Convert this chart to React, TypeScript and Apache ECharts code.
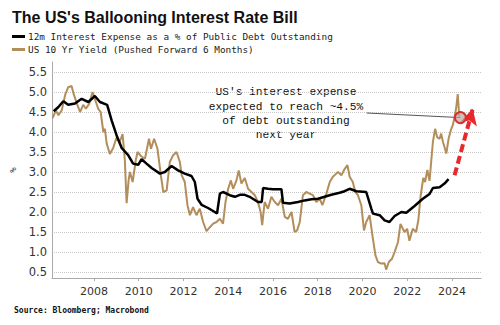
import React, { useEffect, useRef } from "react";
import * as echarts from "echarts";

const TITLE = "The US's Ballooning Interest Rate Bill";
const SERIES_EXPENSE = "12m Interest Expense as a % of Public Debt Outstanding";
const SERIES_YIELD = "US 10 Yr Yield (Pushed Forward 6 Months)";
const SOURCE = "Source: Bloomberg; Macrobond";
const ANNOTATION = "US's interest expense\nexpected to reach ~4.5%\nof debt outstanding\nnext year";

const xTicks = [2008, 2010, 2012, 2014, 2016, 2018, 2020, 2022, 2024];
const yTicks = [0.5, 1.0, 1.5, 2.0, 2.5, 3.0, 3.5, 4.0, 4.5, 5.0, 5.5];

// [year, %]
const interestExpense: [number, number][] = [
  [2006.2, 4.52], [2006.4, 4.62], [2006.63, 4.77], [2006.85, 4.68], [2007.15, 4.71], [2007.45, 4.83],
  [2007.75, 4.75], [2008.04, 4.9], [2008.27, 4.75], [2008.59, 4.68], [2008.79, 4.29], [2009.01, 3.92],
  [2009.24, 3.6], [2009.53, 3.42], [2009.75, 3.21], [2009.98, 3.18], [2010.13, 3.32], [2010.35, 3.21],
  [2010.58, 3.1], [2010.95, 2.96], [2011.17, 3.0], [2011.47, 3.15], [2011.76, 3.04], [2012.06, 2.96],
  [2012.36, 2.9], [2012.51, 2.75], [2012.63, 2.33], [2012.81, 2.18], [2013.1, 2.1], [2013.4, 2.0],
  [2013.5, 1.96], [2013.63, 2.46], [2013.77, 2.5], [2014.07, 2.42], [2014.3, 2.38], [2014.52, 2.43],
  [2014.74, 2.43], [2014.96, 2.38], [2015.33, 2.25], [2015.5, 2.25], [2015.56, 2.6], [2015.78, 2.58],
  [2016.0, 2.57], [2016.38, 2.57], [2016.45, 2.23], [2016.75, 2.21], [2017.12, 2.25], [2017.42, 2.29],
  [2017.72, 2.32], [2018.01, 2.33], [2018.31, 2.38], [2018.61, 2.43], [2018.98, 2.48], [2019.2, 2.52],
  [2019.43, 2.58], [2019.73, 2.52], [2020.17, 2.5], [2020.4, 2.08], [2020.47, 1.96], [2020.77, 1.92],
  [2020.99, 1.79], [2021.21, 1.75], [2021.44, 1.9], [2021.74, 2.0], [2021.96, 1.98], [2022.33, 2.15],
  [2022.7, 2.33], [2023.0, 2.45], [2023.15, 2.6], [2023.45, 2.62], [2023.67, 2.71], [2023.85, 2.82],
];

const yieldShifted: [number, number][] = [
  [2006.15, 4.35], [2006.3, 4.54], [2006.41, 4.42], [2006.56, 4.54], [2006.71, 4.92], [2006.85, 5.12],
  [2007.0, 5.15], [2007.11, 4.92], [2007.26, 4.68], [2007.38, 4.5], [2007.52, 4.68], [2007.64, 4.58],
  [2007.79, 4.71], [2007.94, 5.0], [2008.04, 4.83], [2008.19, 4.58], [2008.3, 4.5], [2008.42, 4.0],
  [2008.49, 4.08], [2008.57, 3.71], [2008.71, 3.45], [2008.86, 3.6], [2009.0, 3.85], [2009.15, 3.75],
  [2009.28, 3.95], [2009.38, 3.3], [2009.46, 2.22], [2009.55, 2.8], [2009.61, 3.0], [2009.73, 2.75],
  [2009.87, 3.3], [2009.95, 3.5], [2010.1, 3.4], [2010.28, 3.33], [2010.46, 3.83], [2010.55, 3.58],
  [2010.69, 3.83], [2010.84, 3.58], [2010.99, 2.92], [2011.1, 2.5], [2011.25, 2.54], [2011.39, 3.25],
  [2011.54, 3.42], [2011.69, 3.5], [2011.84, 3.25], [2011.92, 2.92], [2012.06, 2.75], [2012.18, 2.17],
  [2012.29, 1.92], [2012.43, 2.12], [2012.58, 1.92], [2012.73, 2.08], [2012.88, 1.75], [2013.03, 1.52],
  [2013.18, 1.62], [2013.33, 1.71], [2013.48, 1.75], [2013.63, 1.83], [2013.77, 1.71], [2013.88, 2.25],
  [2014.0, 2.58], [2014.12, 2.79], [2014.22, 2.58], [2014.37, 2.79], [2014.47, 3.04], [2014.59, 2.71],
  [2014.74, 2.85], [2014.89, 2.58], [2015.04, 2.5], [2015.19, 2.42], [2015.33, 2.25], [2015.45, 2.0],
  [2015.52, 1.67], [2015.63, 2.25], [2015.78, 2.08], [2015.93, 2.38], [2016.08, 2.25], [2016.23, 2.17],
  [2016.38, 2.33], [2016.53, 1.88], [2016.67, 1.83], [2016.83, 2.0], [2016.97, 1.5], [2017.08, 1.54],
  [2017.2, 1.75], [2017.34, 2.42], [2017.49, 2.5], [2017.64, 2.46], [2017.79, 2.42], [2017.94, 2.25],
  [2018.09, 2.33], [2018.21, 2.17], [2018.39, 2.46], [2018.54, 2.75], [2018.68, 2.88], [2018.83, 2.96],
  [2018.91, 3.0], [2019.06, 2.92], [2019.21, 3.08], [2019.33, 3.17], [2019.43, 2.88], [2019.57, 2.75],
  [2019.68, 2.5], [2019.8, 2.42], [2019.95, 2.17], [2020.07, 1.54], [2020.17, 1.75], [2020.32, 1.92],
  [2020.47, 1.33], [2020.58, 0.92], [2020.69, 0.75], [2020.84, 0.71], [2020.99, 0.72], [2021.06, 0.56],
  [2021.18, 0.75], [2021.32, 0.83], [2021.44, 1.0], [2021.59, 1.25], [2021.7, 1.7], [2021.88, 1.5],
  [2022.0, 1.58], [2022.1, 1.28], [2022.25, 1.58], [2022.4, 1.5], [2022.5, 1.8], [2022.6, 2.4],
  [2022.72, 2.85], [2022.8, 2.75], [2022.9, 3.05], [2023.0, 2.78], [2023.08, 3.3], [2023.15, 3.75],
  [2023.25, 4.08], [2023.34, 3.87], [2023.45, 3.83], [2023.52, 3.96], [2023.6, 3.75], [2023.67, 3.62],
  [2023.75, 3.46], [2023.85, 3.83], [2023.97, 4.08], [2024.04, 4.17], [2024.12, 4.38], [2024.19, 4.6],
  [2024.26, 4.95], [2024.33, 4.38],
];

// annotation anchors in data space
const calloutStart: [number, number] = [2020.19, 4.475];
const calloutPoint: [number, number] = [2024.38, 4.36];
const arrowStart: [number, number] = [2024.12, 2.92];
const arrowEnd: [number, number] = [2024.93, 4.58];

export default function App() {
  const ref = useRef<HTMLDivElement>(null);
  useEffect(() => {
    if (!ref.current) return;
    const chart = echarts.init(ref.current, undefined, { renderer: "svg" });
    chart.setOption({
      animation: false,
      backgroundColor: "#ffffff",
      title: {
        text: TITLE,
        left: 7,
        top: 4,
        textStyle: { fontFamily: "Liberation Sans", fontWeight: "bold", fontSize: 16, color: "#111" },
      },
      legend: {
        data: [SERIES_EXPENSE, SERIES_YIELD],
        orient: "vertical",
        left: 7,
        top: 27,
        itemWidth: 13,
        itemHeight: 3,
        itemGap: 4,
        icon: "rect",
        textStyle: { fontFamily: "DejaVu Sans Mono", fontSize: 9.4, color: "#222", padding: [0, 0, 0, -2] },
      },
      graphic: [
        {
          type: "text",
          left: 14,
          top: 306,
          style: { text: SOURCE, fontFamily: "DejaVu Sans Mono", fontWeight: "bold", fontSize: 8, fill: "#111" },
        },
        {
          type: "text",
          x: 286,
          y: 85,
          style: {
            text: ANNOTATION,
            fontFamily: "Liberation Mono",
            fontSize: 11.2,
            lineHeight: 14.4,
            align: "center",
            verticalAlign: "top",
            fill: "#111",
          },
        },
      ],
      grid: { left: 52, right: 19, top: 62, bottom: 47 },
      xAxis: {
        type: "value",
        min: 2006.125,
        max: 2025.3,
        axisLine: { show: true, lineStyle: { color: "#aaa" } },
        axisTick: { show: true, customValues: xTicks, length: 3, lineStyle: { color: "#aaa" } },
        axisLabel: {
          customValues: xTicks,
          formatter: (v: number) => String(Math.round(v)),
          fontFamily: "DejaVu Sans",
          fontSize: 11,
          color: "#333",
          margin: 8,
        },
        splitLine: { show: false },
      },
      yAxis: {
        type: "value",
        min: 0.35,
        max: 5.75,
        name: "%",
        nameLocation: "middle",
        nameRotate: 90,
        nameGap: 34,
        nameTextStyle: { fontFamily: "DejaVu Sans Mono", fontSize: 9, color: "#333" },
        axisLine: { show: true, lineStyle: { color: "#aaa" } },
        axisTick: { show: false, customValues: yTicks },
        axisLabel: {
          customValues: yTicks,
          formatter: (v: number) => v.toFixed(1),
          fontFamily: "DejaVu Sans",
          fontSize: 11.5,
          color: "#333",
          margin: 5,
        },
        splitLine: { show: true, lineStyle: { color: "#c8c8c8", type: "dotted", width: 1 } },
      },
      series: [
        {
          name: SERIES_YIELD,
          type: "line",
          data: yieldShifted,
          showSymbol: false,
          color: "#B38E5A",
          lineStyle: { width: 2, color: "#B38E5A" },
          z: 2,
          markLine: {
            silent: true,
            symbol: ["none", "none"],
            label: { show: false },
            lineStyle: { color: "#555", width: 1, type: "solid" },
            data: [[{ coord: calloutStart }, { coord: calloutPoint }]],
          },
          markPoint: {
            silent: true,
            symbol: "circle",
            symbolSize: 11,
            label: { show: false },
            itemStyle: { color: "rgba(190,170,160,0.7)", borderColor: "#d8302e", borderWidth: 2 },
            data: [{ coord: calloutPoint }],
          },
        },
        {
          name: SERIES_EXPENSE,
          type: "line",
          data: interestExpense,
          showSymbol: false,
          color: "#000000",
          lineStyle: { width: 2.5, color: "#000000" },
          z: 3,
          markLine: {
            silent: true,
            symbol: ["none", "arrow"],
            symbolSize: [13, 16],
            label: { show: false },
            lineStyle: { color: "#e8282b", width: 4, type: [8, 4] },
            data: [[{ coord: arrowStart }, { coord: arrowEnd }]],
          },
        },
      ],
    });
    return () => chart.dispose();
  }, []);
  return (
    <div
      ref={ref}
      style={{ position: "fixed", left: 0, top: 0, width: 500, height: 325, background: "#fff" }}
    />
  );
}
